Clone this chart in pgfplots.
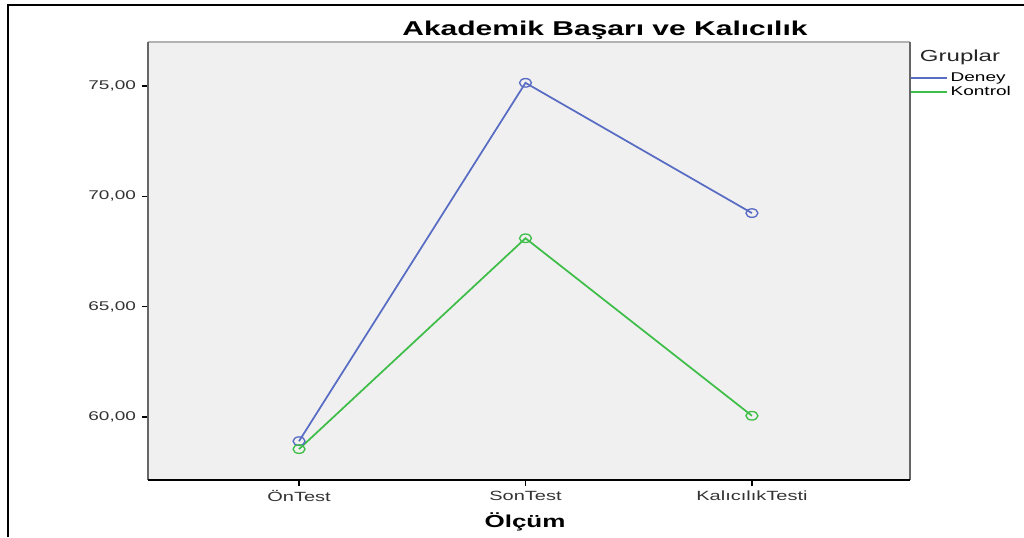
\documentclass[border=0pt]{standalone}
\usepackage{pgfplots}
\pgfplotsset{compat=1.18}
\usepackage{fontspec}
\setmainfont{Liberation Sans}[FakeStretch=1.5]
\definecolor{deney}{RGB}{88,108,196}
\definecolor{kontrol}{RGB}{62,190,72}
\definecolor{bg}{RGB}{240,240,240}
\begin{document}
\begin{tikzpicture}[x=0.75pt,y=0.75pt]
\useasboundingbox (0,0) rectangle (1024,537);
% outer frame (left and top only)
\draw[line width=1.5pt] (8,0) -- (8,532) -- (1024,532);
\begin{axis}[
    at={(111pt,42.75pt)}, anchor=south west,
    scale only axis,
    width=571.5pt, height=328.5pt,
    xmin=-0.667, xmax=2.698,
    ymin=57.15, ymax=76.99,
    axis background/.style={fill=bg},
    axis line style={draw=none},
    xtick={0,1,2},
    xticklabels={ÖnTest,SonTest,KalıcılıkTesti},
    ytick={60,65,70,75},
    yticklabels={{60,00},{65,00},{70,00},{75,00}},
    tick align=outside,
    major tick length=4.5pt,
    xtick pos=bottom, ytick pos=left,
    tick style={black, line width=1pt},
    ticklabel style={font=\fontsize{9.5}{10}\selectfont, text=black!80},
    xticklabel style={font=\fontsize{10}{10}\selectfont},
    yticklabel style={xshift=-1pt},
    clip=false,
    legend style={draw=none, fill=none, at={(1.0,0.936)}, anchor=north west,
        font=\fontsize{9.5}{9}\selectfont, row sep=-2pt, inner sep=0pt,
        /tikz/every even column/.append style={column sep=1pt}},
    legend cell align=left,
    legend image code/.code={\draw[#1] (0pt,0pt) -- (27pt,0pt);},
    every axis plot/.append style={line width=1.3pt, mark=o, mark size=3.2pt,
        mark options={line width=1pt, xscale=1.4}},
]
\draw[gray!60, line width=0.8pt] (rel axis cs:0,1) -- (rel axis cs:1,1);
\draw[black!60, line width=2pt] (rel axis cs:0,0) -- (rel axis cs:0,1);
\draw[black!60, line width=2pt] (rel axis cs:1,0) -- (rel axis cs:1,1);
\draw[black, line width=0.8pt] (rel axis cs:0,0) -- (rel axis cs:1,0);
\addplot[deney] coordinates {(0,58.91) (1,75.14) (2,69.24)};
\addlegendentry{Deney}
\addplot[kontrol] coordinates {(0,58.55) (1,68.10) (2,60.06)};
\addlegendentry{Kontrol}
\end{axis}
\node[font=\bfseries\fontsize{15}{16}\selectfont] at (605,507) {Akademik Başarı ve Kalıcılık};
\node[font=\fontsize{12}{12}\selectfont, text=black!85] at (960,480) {Gruplar};
\node[font=\bfseries\fontsize{13}{13}\selectfont] at (525,15) {Ölçüm};
\end{tikzpicture}
\end{document}
